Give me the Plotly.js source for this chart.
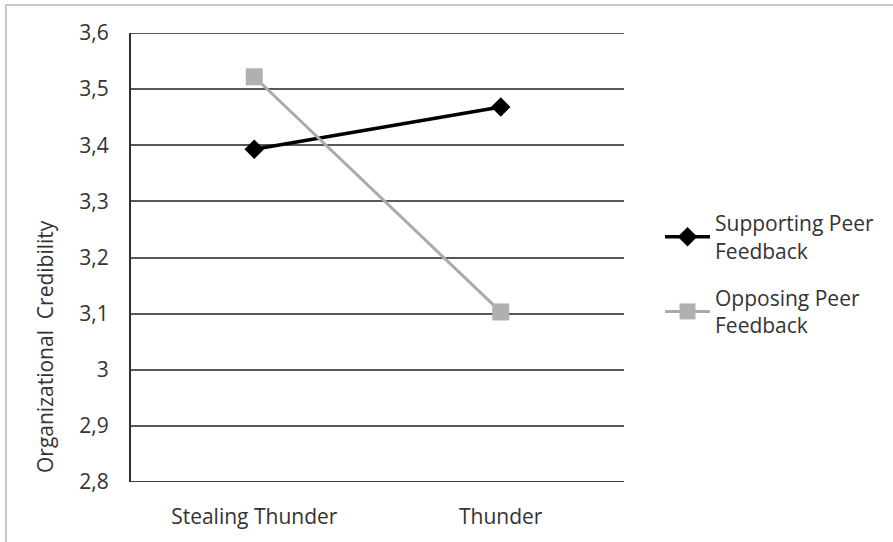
<!DOCTYPE html>
<html>
<head>
<meta charset="utf-8">
<script src="https://cdn.plot.ly/plotly-3.0.1.min.js"></script>
<style>
html,body{margin:0;padding:0;background:#fff;overflow:hidden;}
#chart{width:893px;height:542px;position:absolute;left:0;top:0;}
#frame{position:absolute;left:5px;top:4px;width:1000px;height:1000px;border:2px solid #c8c8c8;pointer-events:none;}
</style>
</head>
<body>
<div id="chart"></div>
<div id="frame"></div>
<script>
const categories = ["Stealing Thunder", "Thunder"];
const supporting = [3.393, 3.468];
const opposing = [3.522, 3.103];
const seriesNames = ["Supporting Peer<br>Feedback", "Opposing Peer<br>Feedback"];
const yTickVals = [2.8, 2.9, 3.0, 3.1, 3.2, 3.3, 3.4, 3.5, 3.6];
const yTickText = ["2,8", "2,9", "3", "3,1", "3,2", "3,3", "3,4", "3,5", "3,6"];
const yTitle = "Organizational  Credibility";

const font = {family: "'Open Sans', 'Noto Sans', sans-serif", size: 21, color: "#333333"};

const traces = [
  {x: categories, y: supporting, name: seriesNames[0], legendgroup: "s", type: "scatter", mode: "lines+markers",
   line: {color: "#000000", width: 3.5}, marker: {symbol: "diamond", size: 15, color: "#000000"}},
  {x: categories, y: opposing, name: seriesNames[1], legendgroup: "o", type: "scatter", mode: "lines+markers",
   line: {color: "#aaaaaa", width: 3}, marker: {symbol: "square", size: 17, color: "#b0b0b0"}}
];

const layout = {
  width: 893, height: 542,
  margin: {l: 131, r: 269, t: 33, b: 60},
  paper_bgcolor: "#ffffff", plot_bgcolor: "#ffffff",
  font: font,
  showlegend: true,
  legend: {x: (660 - 131) / 493, y: (482 - 203) / 449, xanchor: "left", yanchor: "top", font: font,
           tracegroupgap: 17, itemwidth: 45, bgcolor: "rgba(0,0,0,0)"},
  xaxis: {type: "category", range: [-0.5, 1.5], showgrid: false, zeroline: false, showline: false,
          ticks: "", ticklabelstandoff: 20, tickfont: font, fixedrange: true},
  yaxis: {range: [2.8, 3.6], tickvals: yTickVals, ticktext: yTickText,
          showgrid: true, gridcolor: "#585858", gridwidth: 2, zeroline: false,
          showline: true, linecolor: "#303030", linewidth: 2,
          ticks: "", ticklabelstandoff: 16, tickfont: font, fixedrange: true},
  shapes: [
    {type: "line", xref: "paper", yref: "y", x0: 0, x1: 1, y0: 2.8, y1: 2.8, layer: "below",
     line: {color: "#404040", width: 2}},
    {type: "line", xref: "paper", yref: "y", x0: 0, x1: 1, y0: 3.6, y1: 3.6, layer: "below",
     line: {color: "#585858", width: 2}}
  ],
  annotations: [{text: yTitle, xref: "paper", yref: "paper", x: (45 - 131) / 493, y: (482 - 347) / 449,
                 textangle: -90, showarrow: false, font: font, xanchor: "center", yanchor: "middle"}]
};

Plotly.newPlot("chart", traces, layout, {displayModeBar: false, staticPlot: true});
</script>
</body>
</html>
